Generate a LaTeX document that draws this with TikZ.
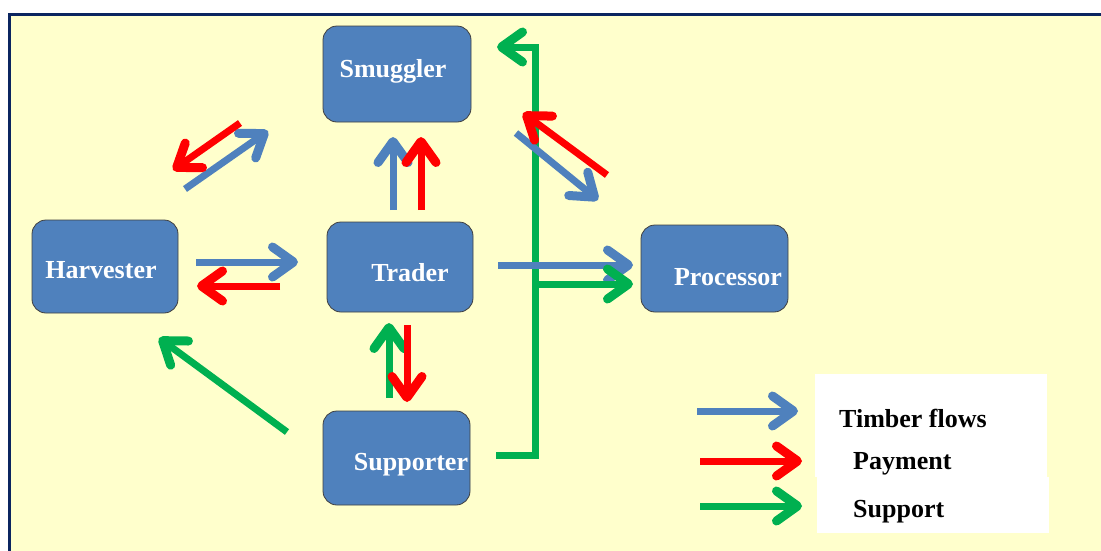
\documentclass[tikz,border=0pt]{standalone}
\usepackage{fontspec}
\setmainfont{Liberation Serif}
\usetikzlibrary{arrows.meta}
\definecolor{bgc}{HTML}{FFFFCC}
\definecolor{framec}{HTML}{0B2560}
\definecolor{boxc}{HTML}{4F81BD}
\definecolor{bluec}{HTML}{4F81BD}
\definecolor{redc}{HTML}{FF0000}
\definecolor{greenc}{HTML}{00B050}
\tikzset{
  actor/.style={draw=black!75, line width=0.8pt, fill=boxc, rounded corners=14pt, inner sep=0pt},
  actortext/.style={anchor=base, inner sep=0pt, text=white, font=\bfseries\fontsize{26}{30}\selectfont},
  legtext/.style={anchor=base west, inner sep=0pt, text=black, font=\bfseries\fontsize{26}{30}\selectfont},
  flow/.style={line width=7pt, -{Straight Barb[length=21pt,width=30pt,line width=9pt,round]}},
  timber/.style={flow, draw=bluec},
  pay/.style={flow, draw=redc},
  supp/.style={flow, draw=greenc},
}
\begin{document}
\begin{tikzpicture}[x=1pt,y=-1pt]
\useasboundingbox (0,0) rectangle (1101,550);
\clip (0,0) rectangle (1101,550);
\draw[framec, line width=3pt, fill=bgc] (9.5,14.5) rectangle (1120,570);
% actors
\node[actor, minimum width=148pt, minimum height=96pt] (smug) at (397,74) {};
\node[actor, minimum width=146pt, minimum height=93pt] (harv) at (105,266.5) {};
\node[actor, minimum width=146pt, minimum height=90pt] (trad) at (400,267) {};
\node[actor, minimum width=147pt, minimum height=87pt] (proc) at (714.5,268.5) {};
\node[actor, minimum width=147pt, minimum height=94pt] (supp) at (396.5,458) {};
\node[actortext] (tsmug) at (393,77) {Smuggler};
\node[actortext] (tharv) at (101,278) {Harvester};
\node[actortext] (ttrad) at (410,281) {Trader};
\node[actortext] (tproc) at (728,285) {Processor};
\node[actortext] (tsupp) at (411,470) {Supporter};
% arrow end points
\coordinate (hs1) at (185,189); \coordinate (hs2) at (268,131);
\coordinate (sh1) at (240,123); \coordinate (sh2) at (173,170);
\coordinate (ts1) at (393,210); \coordinate (ts2) at (393,137);
\coordinate (tp1) at (421,210); \coordinate (tp2) at (421,137);
\coordinate (sp1) at (516,133); \coordinate (sp2) at (598,200);
\coordinate (ps1) at (607,175); \coordinate (ps2) at (523,113);
\coordinate (ht1) at (196,262); \coordinate (ht2) at (298,262);
\coordinate (th1) at (280,286); \coordinate (th2) at (197,286);
\coordinate (tr1) at (498,265); \coordinate (tr2) at (633,265);
\coordinate (st1) at (389,398); \coordinate (st2) at (389,323);
\coordinate (ts3) at (407,325); \coordinate (ts4) at (407,402);
\coordinate (sv1) at (287,432); \coordinate (sv2) at (159,338);
\coordinate (g0) at (496,455); \coordinate (g1) at (535,455);
\coordinate (g2) at (535,47); \coordinate (g3) at (497,47);
\coordinate (gb) at (535,284); \coordinate (gb2) at (633,284);
% flows
\draw[timber] (hs1) -- (hs2);
\draw[pay] (sh1) -- (sh2);
\draw[timber] (ts1) -- (ts2);
\draw[pay] (tp1) -- (tp2);
\draw[timber] (ht1) -- (ht2);
\draw[pay] (th1) -- (th2);
\draw[supp] (st1) -- (st2);
\draw[pay] (ts3) -- (ts4);
\draw[supp] (sv1) -- (sv2);
\draw[supp, line join=miter] (g0) -- (g1) -- (g2) -- (g3);
\draw[timber] (sp1) -- (sp2);
\draw[pay] (ps1) -- (ps2);
\draw[timber] (tr1) -- (tr2);
\draw[supp] (gb) -- (gb2);
% legend
\fill[white] (815,374) rectangle (1047,477);
\fill[white] (817,477) rectangle (1049,533);
\coordinate (lb1) at (697,411); \coordinate (lb2) at (798,411);
\coordinate (lr1) at (700,461); \coordinate (lr2) at (802,461);
\coordinate (lg1) at (700,506); \coordinate (lg2) at (802,506);
\draw[timber] (lb1) -- (lb2);
\draw[pay] (lr1) -- (lr2);
\draw[supp] (lg1) -- (lg2);
\node[legtext] (ltim) at (839,427) {Timber flows};
\node[legtext] (lpay) at (853,469) {Payment};
\node[legtext] (lsup) at (853,517) {Support};
\end{tikzpicture}
\end{document}
